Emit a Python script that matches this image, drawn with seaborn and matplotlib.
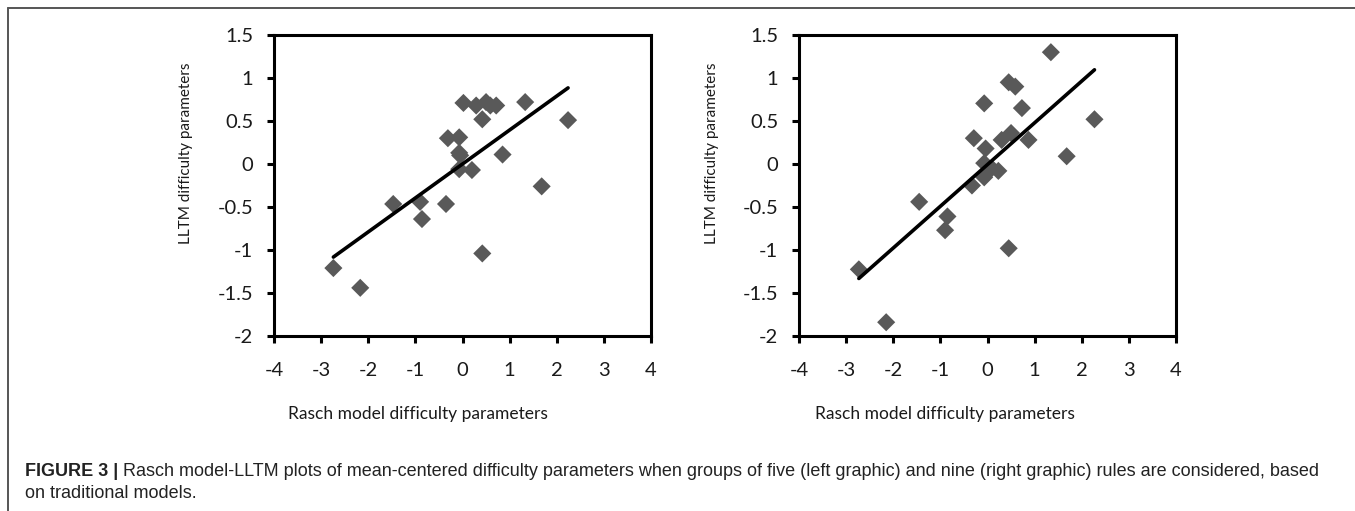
#!/usr/bin/env python3
"""Rasch model vs LLTM difficulty parameters, five and nine rule groups."""

import numpy as np
import pandas as pd
import matplotlib.pyplot as plt
import seaborn as sns
from matplotlib.lines import Line2D

# Left graphic: groups of five rules
rasch_five = [-2.74, -2.17, -1.47, -0.90, -0.86, -0.35, -0.31, -0.07, -0.07, -0.05, -0.07,
              0.20, 0.02, 0.29, 0.50, 0.59, 0.715, 0.42, 0.85, 1.33, 2.24, 1.68, 0.42]
lltm_five = [-1.21, -1.44, -0.465, -0.44, -0.64, -0.465, 0.30, 0.31, 0.13, 0.10, -0.06,
             -0.07, 0.71, 0.68, 0.72, 0.68, 0.68, 0.52, 0.11, 0.72, 0.51, -0.26, -1.04]

# Right graphic: groups of nine rules
rasch_nine = [-2.73, -2.15, -1.45, -0.85, -0.90, -0.33, -0.29, -0.07, -0.04, -0.07, -0.07,
              0.09, 0.23, 0.30, 0.50, 0.45, 0.59, 0.73, 0.87, 1.345, 2.27, 1.68, 0.45]
lltm_nine = [-1.225, -1.84, -0.44, -0.61, -0.77, -0.25, 0.30, 0.705, 0.18, 0.01, -0.155,
             -0.05, -0.08, 0.28, 0.36, 0.95, 0.90, 0.65, 0.28, 1.30, 0.52, 0.09, -0.98]

x_ticks = [-4, -3, -2, -1, 0, 1, 2, 3, 4]
y_ticks = [-2, -1.5, -1, -0.5, 0, 0.5, 1, 1.5]
y_ticklabels = ['-2', '-1.5', '-1', '-0.5', '0', '0.5', '1', '1.5']

XLABEL = 'Rasch model difficulty parameters'
YLABEL = 'LLTM difficulty parameters'
CAPTION_BOLD = 'FIGURE 3 | '
CAPTION_1 = ('Rasch model-LLTM plots of mean-centered difficulty parameters when groups of five '
             '(left graphic) and nine (right graphic) rules are considered, based')
CAPTION_2 = 'on traditional models.'

sns.set_style('white')
plt.rcParams['font.family'] = ['Lato', 'DejaVu Sans']

W, H = 1355, 511
fig = plt.figure(figsize=(W / 100, H / 100), dpi=100)

# (data, axes left edge px, x-label centre px, y-label anchor px)
panels = [
    (pd.DataFrame({'rasch': rasch_five, 'lltm': lltm_five}), 274, 418, 193),
    (pd.DataFrame({'rasch': rasch_nine, 'lltm': lltm_nine}), 799, 945, 719),
]

for df, left_px, xl_px, yl_px in panels:
    ax = fig.add_axes([left_px / W, 1 - 336 / H, 377 / W, 301 / H])
    sns.scatterplot(data=df, x='rasch', y='lltm', ax=ax, marker='D', s=85,
                    color='#595959', edgecolor='none', zorder=3)
    sns.regplot(data=df, x='rasch', y='lltm', ax=ax, scatter=False, ci=None,
                line_kws={'color': 'black', 'lw': 2.6, 'zorder': 4})
    ax.set_xlim(-4, 4)
    ax.set_ylim(-2, 1.5)
    ax.set_xticks(x_ticks)
    ax.set_xticklabels([str(t) for t in x_ticks])
    ax.set_yticks(y_ticks)
    ax.set_yticklabels(y_ticklabels)
    ax.tick_params(axis='both', direction='out', length=5, width=2.2,
                   labelsize=14.5, color='black', labelcolor='#1a1a1a')
    ax.tick_params(axis='x', pad=14, bottom=True)
    ax.tick_params(axis='y', pad=10, left=True)
    for sp in ax.spines.values():
        sp.set_visible(True)
        sp.set_color('black')
        sp.set_linewidth(2.2)
    ax.set_xlabel(XLABEL, fontsize=12.5, color='#1a1a1a')
    ax.set_ylabel(YLABEL, fontsize=11, color='#1a1a1a')
    ax.xaxis.set_label_coords((xl_px - left_px) / 377, -(406 - 336) / 301)
    ax.yaxis.set_label_coords(-(left_px - yl_px) / 377, (336 - 153) / 301)
    ax.grid(False)

# open frame: top and left rules
fig.add_artist(Line2D([8 / W, 1], [1 - 8 / H, 1 - 8 / H], color='#555555', lw=1.4))
fig.add_artist(Line2D([8 / W, 8 / W], [0, 1 - 8 / H], color='#555555', lw=1.4))

# caption
cap_font = ['Liberation Sans', 'DejaVu Sans']
t1 = fig.text(25 / W, 1 - 471 / H, CAPTION_BOLD, fontsize=13, fontweight='bold',
              family=cap_font, color='#222222', va='center', ha='left')
fig.canvas.draw()
bb = t1.get_window_extent(renderer=fig.canvas.get_renderer())
fig.text(bb.x1 / W, 1 - 471 / H, CAPTION_1, fontsize=13, family=cap_font,
         color='#222222', va='center', ha='left')
fig.text(25 / W, 1 - 493 / H, CAPTION_2, fontsize=13, family=cap_font,
         color='#222222', va='center', ha='left')

fig.savefig('out.png', dpi=100)
